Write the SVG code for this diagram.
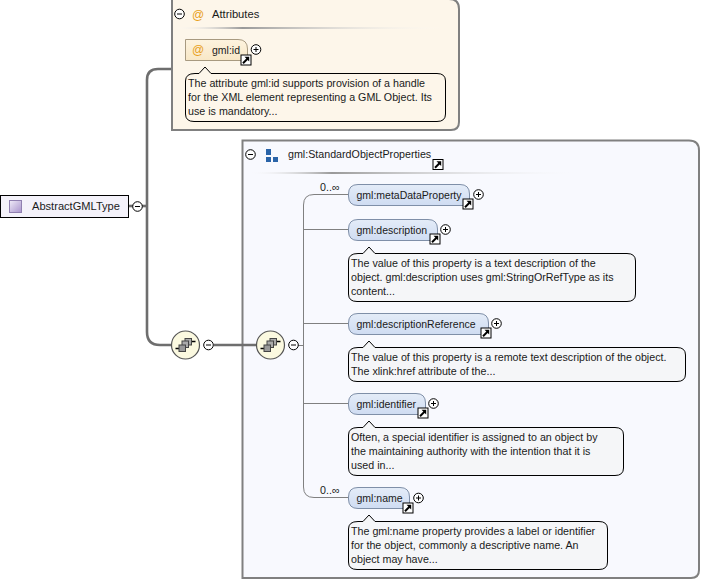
<svg xmlns="http://www.w3.org/2000/svg" width="701" height="580" viewBox="0 0 701 580">
<style>
text{font-family:"Liberation Sans",Arial,sans-serif;font-size:10.7px;fill:#1a1a1a}
.n{font-size:10.500px}
.c{fill:none;stroke:#808080}
.thick{stroke-width:2.6;stroke:#6e6e6e}
.thin{stroke-width:1;stroke:#808080}
.el{fill:url(#blue);stroke:#7f8fa8;stroke-width:1}
.doc{fill:#f5f6f8;stroke:#000;stroke-width:1}
.btn{fill:#fff;stroke:#000;stroke-width:1}
.sym{stroke:#000;stroke-width:1;fill:none}
</style>
<defs>
<linearGradient id="blue" x1="0" y1="0" x2="0" y2="1"><stop offset="0" stop-color="#e4ecf8"/><stop offset="1" stop-color="#cfdcf2"/></linearGradient>
<linearGradient id="attr" x1="0" y1="0" x2="0" y2="1"><stop offset="0" stop-color="#fdf3df"/><stop offset="1" stop-color="#f8e7c6"/></linearGradient>
<linearGradient id="sep" x1="0" y1="0" x2="1" y2="0"><stop offset="0" stop-color="#fff" stop-opacity="0"/><stop offset=".25" stop-color="#999"/><stop offset="1" stop-color="#fff" stop-opacity="0"/></linearGradient>
<linearGradient id="typ" x1="0" y1="0" x2="1" y2="1"><stop offset="0" stop-color="#f0ecf8"/><stop offset="1" stop-color="#a893cc"/></linearGradient>
<g id="minus"><circle r="4.8" class="btn"/><path d="M-2.500 0H2.500" class="sym"/></g>
<g id="plus"><circle r="4.8" class="btn"/><path d="M-2.500 0H2.500M0 -2.500V2.500" class="sym"/></g>
<g id="link"><rect x="-5" y="-5" width="10" height="10" fill="#fff" stroke="#000"/><path d="M-3 3.200L2 -1.800" stroke="#000" stroke-width="2"/><path d="M-1.500 -3.200H3.200V1.500Z" fill="#000"/></g>
<g id="seq"><circle r="14" fill="#fbf9e0" stroke="#555" stroke-width="1.2"/><path d="M-10 3.500H-6M6 -3.500H10" stroke="#000" stroke-width="1.3"/><rect x="-0.500" y="-6.500" width="6.500" height="6.500" fill="#aaa" stroke="#444"/><rect x="-3.500" y="-4" width="6.500" height="6.500" fill="#aaa" stroke="#444"/><rect x="-6.500" y="0" width="6.500" height="6.500" fill="#999" stroke="#444"/></g>
</defs>

<g id="attributes">
<path d="M172 -1H449Q459 -1 459 9V122Q459 130 451 130H172Z" fill="#fdf6ea" stroke="#808080" stroke-width="2"/>
<use href="#minus" x="179.500" y="14"/>
<text x="192" y="19" style="fill:#e8a020;font-size:12px">@</text>
<text x="212" y="18" style="font-size:11.200px">Attributes</text>
<rect x="175" y="27" width="270" height="2" fill="url(#sep)"/>
</g>

<g id="StandardObjectProperties">
<path d="M242.500 140.500H689Q699 140.500 699 150.500V570Q699 578 691 578H242.500Z" fill="#f8f9fe" stroke="#808080" stroke-width="2"/>
<use href="#minus" x="250.500" y="154.500"/>
<rect x="266" y="149" width="5" height="6" fill="#2a64a8"/><rect x="266" y="157" width="5" height="5" fill="#2a64a8"/><rect x="273" y="157" width="5" height="5" fill="#2a64a8"/>
<text x="288" y="158">gml:StandardObjectProperties</text>
<use href="#link" x="438" y="164.500"/>
<rect x="247" y="172" width="340" height="2" fill="url(#sep)"/>
</g>

<g id="connectors">
<path class="c thick" d="M171 69H158Q147 69 147 80V332Q147 345 160 345H172"/>
<path class="c thick" d="M129 206H147"/>
<path class="c thick" d="M214 345H257"/>
<path class="c thin" d="M298 345.500H303.500"/>
<path class="c thin" d="M348 194.500H314Q303.500 194.500 303.500 205V487Q303.500 497.500 314 497.500H348"/>
<path class="c thin" d="M303.500 229.500H348M303.500 323.500H348M303.500 403.500H348"/>
</g>

<g id="gml-id">
<path d="M185.500 39.500H238Q247.500 39.500 247.500 49V60.500H185.500Z" fill="url(#attr)" stroke="#a89a80"/>
<text x="192" y="54" style="fill:#e8a020;font-size:12px">@</text>
<text class="n" x="212" y="54">gml:id</text>
<use href="#link" x="246" y="60"/>
<use href="#plus" x="256" y="49.500"/>
<path class="doc" style="fill:#fdf6ea" d="M195 73.500H199L205 67L211 73.500H437Q445.500 73.500 445.500 81V114Q445.500 121.500 437 121.500H194Q185.500 121.500 185.500 114V81Q185.500 73.500 195 73.500Z"/>
<text x="188" y="87">The attribute gml:id supports provision of a handle</text>
<text x="188" y="101">for the XML element representing a GML Object. Its</text>
<text x="188" y="115">use is mandatory...</text>
</g>

<g id="AbstractGMLType">
<rect x="0.500" y="195.500" width="128" height="22" fill="#f4f2fa" stroke="#000"/>
<rect x="9.500" y="200.500" width="12" height="12" fill="url(#typ)" stroke="#9080b0"/>
<text x="32" y="210" style="font-size:11.100px">AbstractGMLType</text>
<use href="#minus" x="137.500" y="206.500"/>
</g>

<g id="seq1"><use href="#seq" x="185.500" y="345"/><use href="#minus" x="208.500" y="345"/></g>

<g id="seq2"><use href="#seq" x="270.500" y="345"/><use href="#minus" x="293.500" y="345"/></g>

<g id="metaDataProperty">
<path class="el" d="M358 184.500H460Q469.500 184.500 469.500 194V205.500H358Q348.500 205.500 348.500 196V194Q348.500 184.500 358 184.500Z"/>
<text class="n" x="356.500" y="199">gml:metaDataProperty</text>
<text x="320" y="191">0..∞</text>
<use href="#link" x="468" y="204"/><use href="#plus" x="478.500" y="194.500"/>
</g>

<g id="description">
<path class="el" d="M358 219.500H428Q437.500 219.500 437.500 229V240.500H358Q348.500 240.500 348.500 231V229Q348.500 219.500 358 219.500Z"/>
<text class="n" x="356.500" y="234">gml:description</text>
<use href="#link" x="435" y="239"/><use href="#plus" x="445.500" y="229.500"/>
<path class="doc" d="M358 253.500H363L369 247L375 253.500H627Q635.500 253.500 635.500 261V294Q635.500 301.500 627 301.500H357Q348.500 301.500 348.500 294V261Q348.500 253.500 358 253.500Z"/>
<text x="351" y="267">The value of this property is a text description of the</text>
<text x="351" y="281">object. gml:description uses gml:StringOrRefType as its</text>
<text x="351" y="295">content...</text>
</g>

<g id="descriptionReference">
<path class="el" d="M358 313.500H479Q488.500 313.500 488.500 323V334.500H358Q348.500 334.500 348.500 325V323Q348.500 313.500 358 313.500Z"/>
<text class="n" x="356.500" y="328">gml:descriptionReference</text>
<use href="#link" x="486" y="333"/><use href="#plus" x="496.500" y="323.500"/>
<path class="doc" d="M358 347.500H363L369 341L375 347.500H677Q685.500 347.500 685.500 355V374Q685.500 381.500 677 381.500H357Q348.500 381.500 348.500 374V355Q348.500 347.500 358 347.500Z"/>
<text x="351" y="361">The value of this property is a remote text description of the object.</text>
<text x="351" y="375">The xlink:href attribute of the...</text>
</g>

<g id="identifier">
<path class="el" d="M358 393.500H416Q425.500 393.500 425.500 403V414.500H358Q348.500 414.500 348.500 405V403Q348.500 393.500 358 393.500Z"/>
<text class="n" x="356.500" y="408">gml:identifier</text>
<use href="#link" x="423" y="413"/><use href="#plus" x="433.500" y="403.500"/>
<path class="doc" d="M358 427.500H363L369 421L375 427.500H615Q623.500 427.500 623.500 435V468Q623.500 475.500 615 475.500H357Q348.500 475.500 348.500 468V435Q348.500 427.500 358 427.500Z"/>
<text x="351" y="441">Often, a special identifier is assigned to an object by</text>
<text x="351" y="455">the maintaining authority with the intention that it is</text>
<text x="351" y="469">used in...</text>
</g>

<g id="name">
<path class="el" d="M358 487.500H400Q409.500 487.500 409.500 497V508.500H358Q348.500 508.500 348.500 499V497Q348.500 487.500 358 487.500Z"/>
<text class="n" x="356.500" y="502">gml:name</text>
<text x="320" y="494">0..∞</text>
<use href="#link" x="408" y="508"/><use href="#plus" x="418.500" y="498"/>
<path class="doc" d="M358 521.500H363L369 515L375 521.500H599Q607.500 521.500 607.500 529V562Q607.500 569.500 599 569.500H357Q348.500 569.500 348.500 562V529Q348.500 521.500 358 521.500Z"/>
<text x="351" y="535">The gml:name property provides a label or identifier</text>
<text x="351" y="549">for the object, commonly a descriptive name. An</text>
<text x="351" y="563">object may have...</text>
</g>
</svg>
